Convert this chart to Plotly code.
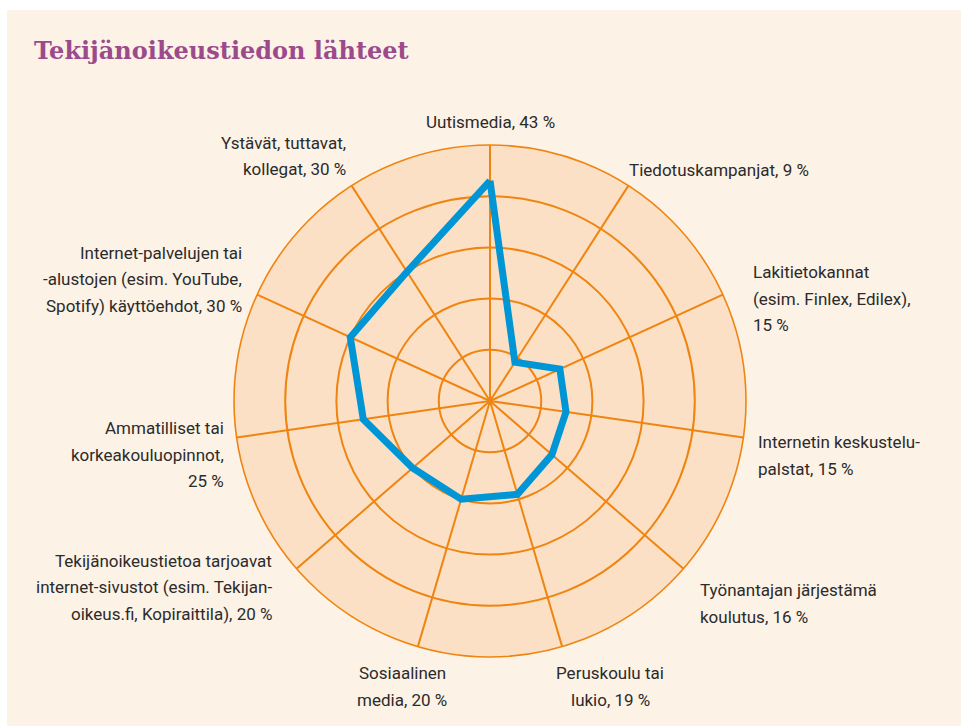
import plotly.graph_objects as go

W, H = 961, 726

title_text = "Tekijänoikeustiedon lähteet"

categories = [
    "Uutismedia",
    "Tiedotuskampanjat",
    "Lakitietokannat",
    "Internetin keskustelupalstat",
    "Työnantajan järjestämä koulutus",
    "Peruskoulu tai lukio",
    "Sosiaalinen media",
    "Tekijänoikeustietoa tarjoavat internet-sivustot",
    "Ammatilliset tai korkeakouluopinnot",
    "Internet-palvelujen tai -alustojen käyttöehdot",
    "Ystävät, tuttavat, kollegat",
]
values = [43, 9, 15, 15, 16, 19, 20, 20, 25, 30, 30]

label_texts = [
    "Uutismedia, 43 %",
    "Tiedotuskampanjat, 9 %",
    "Lakitietokannat<br>(esim. Finlex, Edilex),<br>15 %",
    "Internetin keskustelu-<br>palstat, 15 %",
    "Työnantajan järjestämä<br>koulutus, 16 %",
    "Peruskoulu tai<br>lukio, 19 %",
    "Sosiaalinen<br>media, 20 %",
    "Tekijänoikeustietoa tarjoavat<br>internet-sivustot (esim. Tekijan-<br>oikeus.fi, Kopiraittila), 20 %",
    "Ammatilliset tai<br>korkeakouluopinnot,<br>25 %",
    "Internet-palvelujen tai<br>-alustojen (esim. YouTube,<br>Spotify) käyttöehdot, 30 %",
    "Ystävät, tuttavat,<br>kollegat, 30 %",
]
# label placement (pixel anchor of block centre, anchor side)
label_pos = [
    (490, 122, "center"),
    (627, 170, "left"),
    (751, 298.5, "left"),
    (756, 455.5, "left"),
    (698, 603.5, "left"),
    (610, 686.5, "center"),
    (402, 686.5, "center"),
    (274, 587, "right"),
    (226, 454.5, "right"),
    (244, 279.5, "right"),
    (348, 156, "right"),
]
LINE_GAP = 26.5

radial_ticks = [10, 20, 30, 40, 50]

ORANGE = "#ef8510"
PEACH = "#fbe0c5"
CREAM = "#fdf2e6"
BLUE = "#0096d6"
PURPLE = "#9b4a8c"
TEXT = "#2b2b2b"

cx, cy, R = 490, 401, 256

fig = go.Figure()
fig.add_trace(go.Scatterpolar(
    r=values + [values[0]],
    theta=categories + [categories[0]],
    mode="lines",
    line=dict(color=BLUE, width=7),
    hoverinfo="skip",
    showlegend=False,
))

annotations = []
for txt, (px, py, side) in zip(label_texts, label_pos):
    lines = txt.split("<br>")
    n = len(lines)
    for i, ln in enumerate(lines):
        ly = py + (i - (n - 1) / 2) * LINE_GAP
        annotations.append(dict(
            text=ln, x=px / W, y=1 - ly / H, xref="paper", yref="paper",
            xanchor=side, yanchor="middle", align=side, showarrow=False,
            font=dict(family="Roboto, sans-serif", size=17, color=TEXT),
        ))
annotations.append(dict(
    text="<b>" + title_text + "</b>", x=32 / W, y=1 - 50 / H, xref="paper", yref="paper",
    xanchor="left", yanchor="middle", showarrow=False,
    font=dict(family="DejaVu Serif, serif", size=24, color=PURPLE),
))

fig.update_layout(
    width=W, height=H,
    margin=dict(l=0, r=0, t=0, b=0),
    paper_bgcolor=CREAM,
    showlegend=False,
    polar=dict(
        domain=dict(x=[(cx - R) / W, (cx + R) / W], y=[(H - cy - R) / H, (H - cy + R) / H]),
        bgcolor=PEACH,
        angularaxis=dict(
            rotation=90, direction="clockwise",
            showticklabels=False, ticks="",
            showline=True, linecolor=ORANGE, linewidth=1.6,
            gridcolor=ORANGE, gridwidth=1.5,
        ),
        radialaxis=dict(
            range=[0, 50], tickvals=radial_ticks, showticklabels=False, ticks="",
            showline=False, gridcolor=ORANGE, gridwidth=1.5,
        ),
    ),
    annotations=annotations,
    shapes=[
        dict(type="rect", xref="paper", yref="paper", x0=-0.01, x1=1.01,
             y0=1 - 10 / H, y1=1.01, fillcolor="white", line=dict(width=0), layer="below"),
        dict(type="rect", xref="paper", yref="paper", x0=-0.01, x1=7 / W,
             y0=-0.01, y1=1.01, fillcolor="white", line=dict(width=0), layer="below"),
    ],
)

fig.write_html("out.html", config={"displayModeBar": False},
               post_script="document.body.style.margin='0px';")
